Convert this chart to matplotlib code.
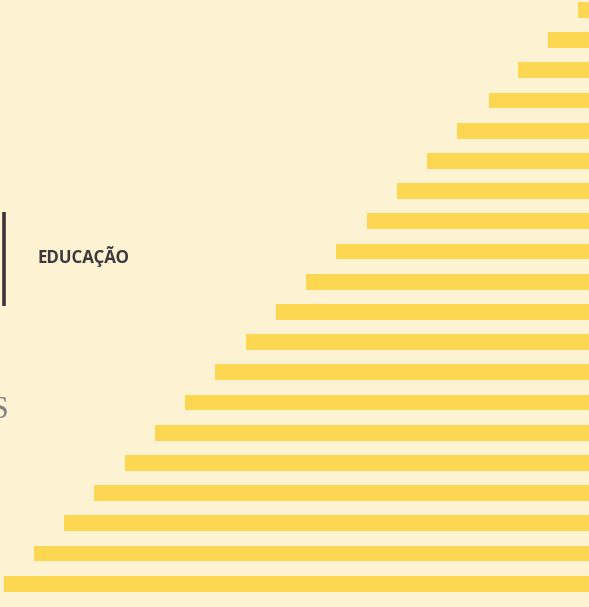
import matplotlib
matplotlib.use("Agg")
import matplotlib.pyplot as plt
from matplotlib.lines import Line2D

# Data: bar lengths (in pixels of the 589-wide canvas, measured from the right edge)
categories = list(range(1, 21))
bar_lengths = [11, 41, 71, 100, 132, 162, 192, 222, 253, 283,
               313, 343, 374, 404, 434, 464, 495, 525, 555, 585]
label_text = "EDUCAÇÃO"
side_letter = "S"

BG = "#FDF3D3"
BAR = "#FDD652"
W, H = 589, 607

fig = plt.figure(figsize=(W / 100, H / 100), dpi=100, facecolor=BG)
ax = fig.add_axes([0, 0, 1, 1])
ax.set_facecolor(BG)

ypos = list(range(len(categories)))
ax.barh(ypos, bar_lengths, left=0, height=0.52, color=BAR, linewidth=0)
ax.set_xlim(W, 0)
ax.set_ylim((H - 9.9) / 30.2, -9.9 / 30.2)
ax.axis("off")

# vertical dark line
fig.add_artist(Line2D([3.5 / W, 3.5 / W], [1 - 212 / H, 1 - 306 / H],
                      transform=fig.transFigure, color="#3B3437", linewidth=2.6,
                      solid_capstyle="butt"))

fig.text(37.5 / W, 1 - 256.5 / H, label_text, fontsize=12.2, fontweight="bold",
         family="Open Sans", color="#3D383C", va="center", ha="left")

fig.text(-9 / W, 1 - 411 / H, side_letter, fontsize=23, family="Liberation Serif",
         color="#808080", va="center", ha="left")

fig.savefig("out.png", dpi=100, facecolor=BG)
